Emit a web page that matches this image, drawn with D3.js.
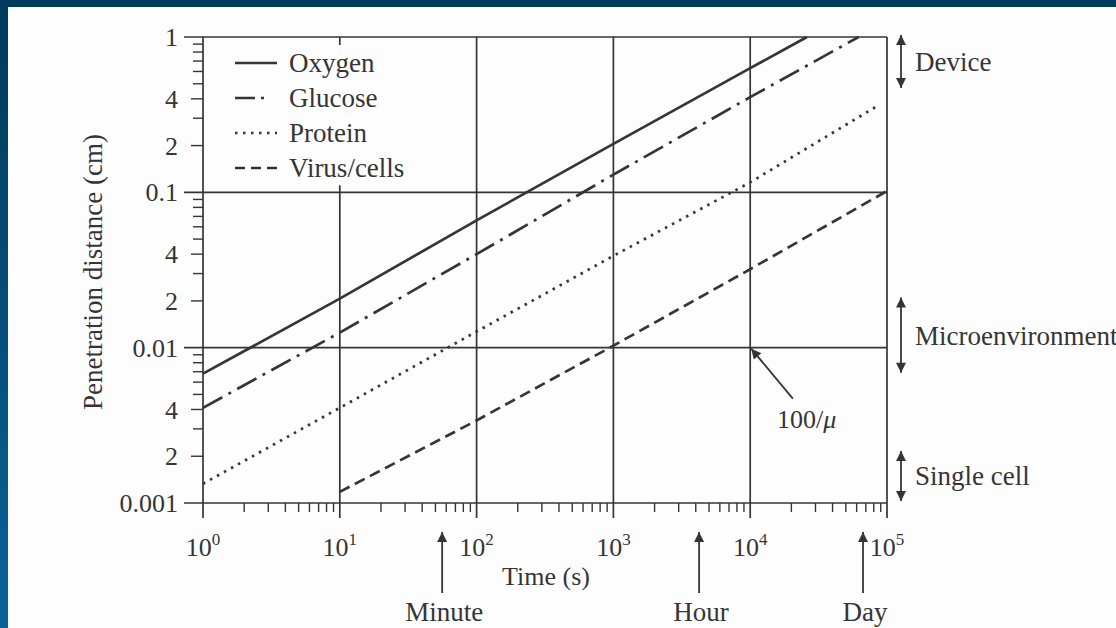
<!DOCTYPE html>
<html>
<head>
<meta charset="utf-8">
<script src="https://cdn.jsdelivr.net/npm/d3@7"></script>
<style>
  html, body { margin: 0; padding: 0; }
  svg { display: block; }
  text { font-family: "Liberation Serif", "Times New Roman", serif; fill: #353535; }
</style>
</head>
<body>
<svg id="chart" width="1116" height="628"></svg>
<script>
// Values (time in s, distance in cm)
const oxygenTimes = [1, 10, 100, 1000, 10000, 26000];
const oxygenValues = [0.0068, 0.0207, 0.066, 0.205, 0.63, 1.0];
const glucoseTimes = [1, 10, 100, 1000, 10000, 62000];
const glucoseValues = [0.0041, 0.0125, 0.04, 0.13, 0.41, 1.0];
const proteinTimes = [1, 10, 100, 1000, 10000, 85000];
const proteinValues = [0.00133, 0.0041, 0.0127, 0.039, 0.116, 0.36];
const virusTimes = [10, 100, 1000, 10000, 100000];
const virusValues = [0.00118, 0.0034, 0.0103, 0.032, 0.102];

const seriesNames = ["Oxygen", "Glucose", "Protein", "Virus/cells"];
const seriesDash = ["none", "22,7,3,7", "2.5,5.5", "11,6"];

const yTickValues = [1, 0.4, 0.2, 0.1, 0.04, 0.02, 0.01, 0.004, 0.002, 0.001];
const yTickLabels = ["1", "4", "2", "0.1", "4", "2", "0.01", "4", "2", "0.001"];
const xMajorValues = [1, 10, 100, 1000, 10000, 100000];
const xExponents = ["0", "1", "2", "3", "4", "5"];

const markerLabels = ["Minute", "Hour", "Day"];
const markerTimes = [56, 4230, 66800];

const rangeLabels = ["Device", "Microenvironment", "Single cell"];
const rangeTops = [1.03, 0.021, 0.00216];
const rangeBottoms = [0.47, 0.0069, 0.00103];

const ink = "#353535";

const svg = d3.select("#chart");

/*****************/
/*  Background   */
/*****************/
const defs = svg.append("defs");
const grad = defs.append("linearGradient")
  .attr("id", "bg").attr("x1", 0).attr("y1", 0).attr("x2", 0).attr("y2", 1);
grad.append("stop").attr("offset", "0%").attr("stop-color", "#003a5c");
grad.append("stop").attr("offset", "100%").attr("stop-color", "#0a6298");

svg.append("rect").attr("width", 1116).attr("height", 628).attr("fill", "url(#bg)");
svg.append("rect").attr("x", 8).attr("y", 7).attr("width", 1108).attr("height", 621).attr("fill", "#fdfdfd");

defs.append("marker")
  .attr("id", "head")
  .attr("viewBox", "0 0 10 10")
  .attr("refX", 10).attr("refY", 5)
  .attr("markerUnits", "userSpaceOnUse")
  .attr("markerWidth", 16).attr("markerHeight", 10)
  .attr("orient", "auto-start-reverse")
  .append("path").attr("d", "M0,0 L10,5 L0,10 Z").attr("fill", ink);

/*************/
/*  Scales   */
/*************/
const x = d3.scaleLog().domain([1, 1e5]).range([203, 887]);
const y = d3.scaleLog().domain([0.001, 1]).range([503, 37]);

const g = svg.append("g");

/***********************/
/*  Frame and grid     */
/***********************/
// minor ticks, y axis (left, outside)
const yMinor = [];
[0.001, 0.01, 0.1].forEach(dec => d3.range(2, 10).forEach(k => yMinor.push(dec * k)));
g.selectAll(".ymin").data(yMinor).join("line")
  .attr("x1", d => yTickValues.includes(+d.toPrecision(3)) ? x(1) - 12 : x(1) - 10)
  .attr("x2", x(1))
  .attr("y1", d => y(d)).attr("y2", d => y(d))
  .attr("stroke", ink).attr("stroke-width", 1.4);

// minor ticks, x axis (below)
const xMinor = [];
[1, 10, 100, 1000, 10000].forEach(dec => d3.range(2, 10).forEach(k => xMinor.push(dec * k)));
g.selectAll(".xmin").data(xMinor).join("line")
  .attr("x1", d => x(d)).attr("x2", d => x(d))
  .attr("y1", y(0.001)).attr("y2", y(0.001) + 9)
  .attr("stroke", ink).attr("stroke-width", 1.4);

// horizontal decade lines
g.selectAll(".hgrid").data([1, 0.1, 0.01, 0.001]).join("line")
  .attr("x1", x(1) - 19).attr("x2", x(1e5))
  .attr("y1", d => y(d)).attr("y2", d => y(d))
  .attr("stroke", ink).attr("stroke-width", 1.7);

// vertical decade lines
g.selectAll(".vgrid").data(xMajorValues).join("line")
  .attr("x1", d => x(d)).attr("x2", d => x(d))
  .attr("y1", d => d === 10 ? y(0.1) - 7 : y(1))
  .attr("y2", y(0.001) + 15)
  .attr("stroke", ink).attr("stroke-width", 1.7);

// small top tick at 10^1
g.append("line")
  .attr("x1", x(10)).attr("x2", x(10))
  .attr("y1", y(1)).attr("y2", y(1) + 8)
  .attr("stroke", ink).attr("stroke-width", 1.7);

/**************/
/*  Labels    */
/**************/
g.selectAll(".ylab").data(yTickValues).join("text")
  .attr("x", 178).attr("y", d => y(d)).attr("dy", "0.35em")
  .attr("text-anchor", "end").attr("font-size", 26)
  .text((d, i) => yTickLabels[i]);

const xl = g.selectAll(".xlab").data(xMajorValues).join("text")
  .attr("x", d => x(d)).attr("y", 556)
  .attr("text-anchor", "middle").attr("font-size", 26);
xl.append("tspan").text("10");
xl.append("tspan").attr("dy", -11).attr("font-size", 17).text((d, i) => xExponents[i]);

g.append("text")
  .attr("x", 546).attr("y", 585)
  .attr("text-anchor", "middle").attr("font-size", 26)
  .text("Time (s)");

g.append("text")
  .attr("transform", "translate(102,272) rotate(-90)")
  .attr("text-anchor", "middle").attr("font-size", 27)
  .text("Penetration distance (cm)");

/**************/
/*  Series    */
/**************/
const seriesData = [
  d3.zip(oxygenTimes, oxygenValues),
  d3.zip(glucoseTimes, glucoseValues),
  d3.zip(proteinTimes, proteinValues),
  d3.zip(virusTimes, virusValues)
];

const lineGen = d3.line().x(d => x(d[0])).y(d => y(d[1]));

g.selectAll(".series").data(seriesData).join("path")
  .attr("d", lineGen)
  .attr("fill", "none")
  .attr("stroke", ink)
  .attr("stroke-width", 2.7)
  .attr("stroke-dasharray", (d, i) => seriesDash[i]);

/**************/
/*  Legend    */
/**************/
const legend = g.selectAll(".legend").data(seriesNames).join("g")
  .attr("transform", (d, i) => `translate(235,${63 + i * 35})`);
legend.append("line")
  .attr("x1", 0).attr("x2", 42)
  .attr("stroke", ink).attr("stroke-width", 2.7)
  .attr("stroke-dasharray", (d, i) => i === 1 ? "20,6,3,20" : i === 3 ? "10,6" : seriesDash[i]);
legend.append("text")
  .attr("x", 54).attr("dy", "0.35em").attr("font-size", 27)
  .text(d => d);

/*************************/
/*  Time markers         */
/*************************/
const markers = g.selectAll(".marker").data(markerTimes).join("g");
markers.append("line")
  .attr("x1", d => x(d)).attr("x2", d => x(d))
  .attr("y1", 593).attr("y2", 532)
  .attr("stroke", ink).attr("stroke-width", 1.8)
  .attr("marker-end", "url(#head)");
markers.append("text")
  .attr("x", d => x(d) + 2).attr("y", 621)
  .attr("text-anchor", "middle").attr("font-size", 27)
  .text((d, i) => markerLabels[i]);

/*************************/
/*  Size ranges (right)  */
/*************************/
const ranges = g.selectAll(".range").data(rangeLabels).join("g");
ranges.append("line")
  .attr("x1", 901).attr("x2", 901)
  .attr("y1", (d, i) => y(rangeTops[i])).attr("y2", (d, i) => y(rangeBottoms[i]))
  .attr("stroke", ink).attr("stroke-width", 1.8)
  .attr("marker-start", "url(#head)").attr("marker-end", "url(#head)");
ranges.append("text")
  .attr("x", 915)
  .attr("y", (d, i) => (y(rangeTops[i]) + y(rangeBottoms[i])) / 2)
  .attr("dy", "0.35em").attr("font-size", 27)
  .text(d => d);

/*************************/
/*  100/μ pointer        */
/*************************/
g.append("line")
  .attr("x1", x(20500)).attr("y1", y(0.0047))
  .attr("x2", x(10000) + 1).attr("y2", y(0.01) + 1)
  .attr("stroke", ink).attr("stroke-width", 1.8)
  .attr("marker-end", "url(#head)");
const mu = g.append("text").attr("x", 777).attr("y", 428).attr("font-size", 26);
mu.append("tspan").text("100/");
mu.append("tspan").attr("font-style", "italic").text("μ");
</script>
</body>
</html>
